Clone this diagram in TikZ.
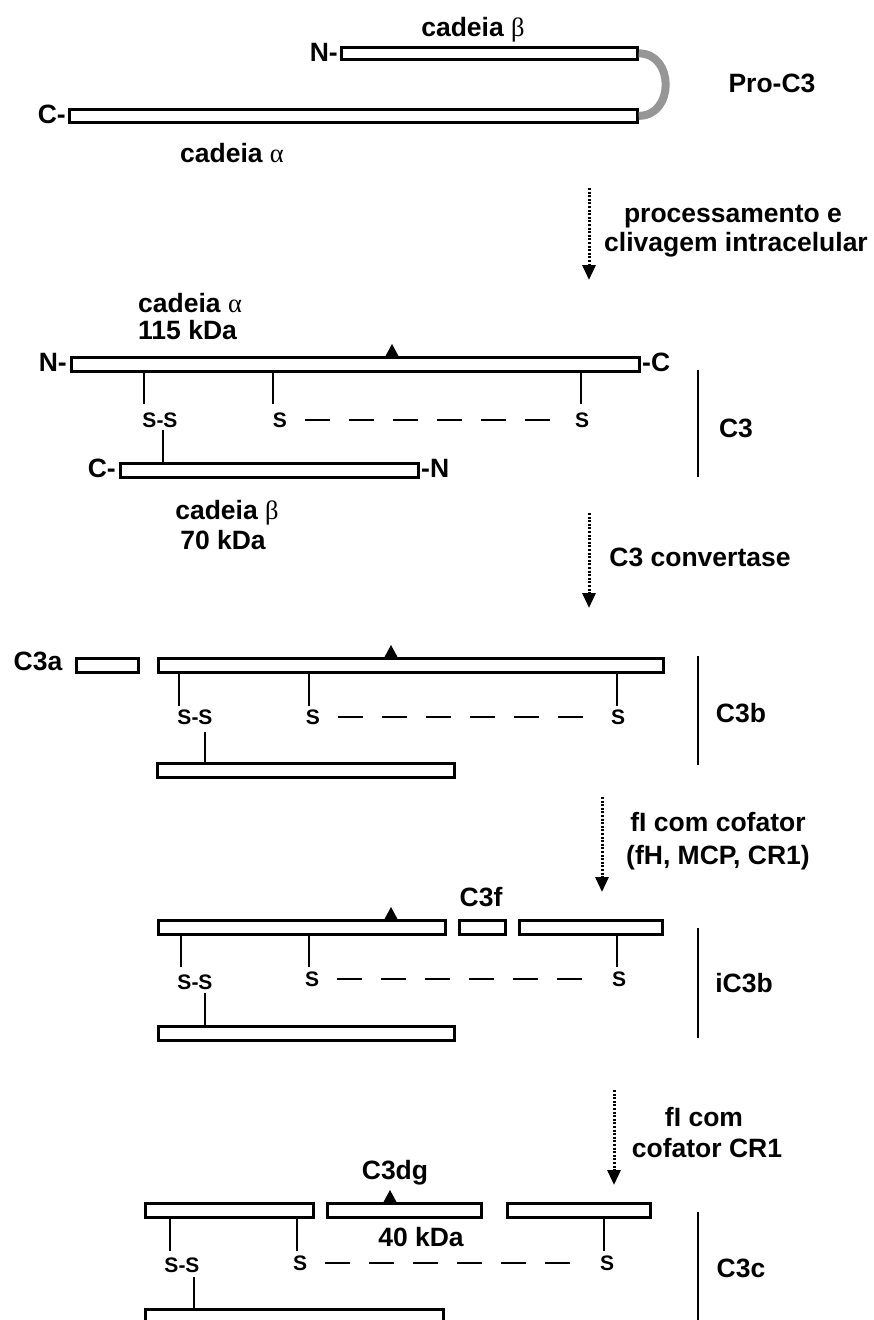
\documentclass[tikz,border=0pt]{standalone}
\usepackage{fontspec}
\setmainfont{Liberation Sans}
\newfontfamily\grk{Liberation Serif}
\usetikzlibrary{arrows.meta}
\definecolor{arcgray}{RGB}{150,150,150}
\begin{document}
\begin{tikzpicture}[x=1pt,y=-1pt,
  lbl/.style={font=\bfseries\fontsize{26.5}{30}\selectfont, inner sep=0pt, text height=19pt, text depth=0pt},
  slbl/.style={font=\bfseries\fontsize{21}{24}\selectfont, inner sep=0pt, text height=15pt, text depth=0pt},
  barbox/.style={draw, line width=2.7pt, fill=white, rectangle, anchor=north west, minimum height=14pt, inner sep=0pt},
  link/.style={line width=2pt},
  sdash/.style={line width=2.8pt, dash pattern=on 25pt off 19pt, shorten <=18pt, shorten >=18pt},
  flow/.style={line width=3pt, dash pattern=on 2pt off 1.6pt, -{Triangle[width=13pt,length=15pt]}},
  sidebar/.style={line width=2.4pt}
]
\useasboundingbox (0,0) rectangle (873,1320);
\newcommand\grkb[1]{{\grk\mdseries #1}}
\newcommand\tri[2]{\fill ([xshift=#2]#1.north west) ++(-6.5,0) -- ++(13,0) -- ++(-6.5,-12) -- cycle;}

% ---------------- Pro-C3 ----------------
\node[lbl] (tb0) at (473,27) {cadeia \grkb{β}};
\node[barbox, minimum width=296pt, minimum height=12pt] (bB0) at (340,46) {};
\node[lbl, anchor=east] (nb0) at (338,52) {N-};
\node[barbox, minimum width=568pt, minimum height=13pt] (bA0) at (68,108) {};
\node[lbl, anchor=east] (cA0) at (66,114) {C-};
\draw[line width=8pt, arcgray] (bB0.east) .. controls +(36,0) and +(36,0) .. (bA0.east);
\node[lbl] (ta0) at (232,153) {cadeia \grkb{α}};
\node[lbl] (pro) at (772,83) {Pro-C3};

% arrow 1
\coordinate (f1s) at (589,188);
\coordinate (f1e) at (589,280);
\draw[flow] (f1s) -- (f1e);
\node[lbl] (p1) at (733,213) {processamento e};
\node[lbl] (p2) at (736,242) {clivagem intracelular};

% ---------------- C3 ----------------
\node[lbl, anchor=west] (ta1) at (138,303) {cadeia \grkb{α}};
\node[lbl, anchor=west] (kd1) at (138,330) {115 kDa};
\node[barbox, minimum width=568pt] (a1) at (70,356) {};
\node[lbl, anchor=east] (nN1) at (67,362) {N-};
\node[lbl, anchor=west] (cC1) at (642,362) {-C};
\tri{a1}{322pt}
\node[slbl] (ss1) at (160,420) {S-S};
\node[slbl] (s12) at (280,420) {S};
\node[slbl] (s13) at (582,420) {S};
\draw[link] ([xshift=74pt]a1.south west) -- ++(0,31);
\draw[link] ([xshift=203pt]a1.south west) -- ++(0,31);
\draw[link] ([xshift=511pt]a1.south west) -- ++(0,31);
\draw[sdash] (s12.east) -- (s13.west);
\node[barbox, minimum width=298pt] (b1) at (119,462) {};
\node[lbl, anchor=east] (cC2) at (116,468) {C-};
\node[lbl, anchor=west] (nN2) at (421,468) {-N};
\draw[link] ([xshift=44pt]b1.north west) -- ++(0,-32);
\draw[sidebar] (698,370) -- (698,477);
\node[lbl] (lc3) at (736,428) {C3};
\node[lbl] (tb1) at (227,510) {cadeia \grkb{β}};
\node[lbl] (kd2) at (223,540) {70 kDa};

% arrow 2
\coordinate (f2s) at (589,513);
\coordinate (f2e) at (589,608);
\draw[flow] (f2s) -- (f2e);
\node[lbl] (cv) at (700,557) {C3 convertase};

% ---------------- C3b ----------------
\node[lbl] (c3a) at (38,661) {C3a};
\node[barbox, minimum width=62pt] (c3abox) at (75,657) {};
\node[barbox, minimum width=505pt] (a2) at (157,657) {};
\tri{a2}{234pt}
\node[slbl] (ss2) at (195,717) {S-S};
\node[slbl] (s22) at (313,717) {S};
\node[slbl] (s23) at (618,717) {S};
\draw[link] ([xshift=22pt]a2.south west) -- ++(0,32);
\draw[link] ([xshift=152pt]a2.south west) -- ++(0,32);
\draw[link] ([xshift=460pt]a2.south west) -- ++(0,32);
\draw[sdash] (s22.east) -- (s23.west);
\node[barbox, minimum width=297pt] (b2) at (156,762) {};
\draw[link] ([xshift=49pt]b2.north west) -- ++(0,-30);
\draw[sidebar] (698,656) -- (698,765);
\node[lbl] (lc3b) at (741,713) {C3b};

% arrow 3
\coordinate (f3s) at (602,797);
\coordinate (f3e) at (602,892);
\draw[flow] (f3s) -- (f3e);
\node[lbl] (fi1) at (718,822) {fI com cofator};
\node[lbl] (fi2) at (718,855) {(fH, MCP, CR1)};

% ---------------- iC3b ----------------
\node[lbl] (c3f) at (481,897) {C3f};
\node[barbox, minimum width=287pt] (a3l) at (157,919) {};
\node[barbox, minimum width=46pt] (c3fbox) at (458,919) {};
\node[barbox, minimum width=143pt] (a3r) at (518,919) {};
\tri{a3l}{234pt}
\node[slbl] (ss3) at (195,982) {S-S};
\node[slbl] (s32) at (312,979) {S};
\node[slbl] (s33) at (619,979) {S};
\draw[link] ([xshift=24pt]a3l.south west) -- ++(0,31);
\draw[link] ([xshift=152pt]a3l.south west) -- ++(0,31);
\draw[link] ([xshift=99pt]a3r.south west) -- ++(0,31);
\draw[sdash] (s32.east) -- (s33.west);
\node[barbox, minimum width=296pt] (b3) at (157,1025) {};
\draw[link] ([xshift=48pt]b3.north west) -- ++(0,-32);
\draw[sidebar] (698,928) -- (698,1038);
\node[lbl] (lic) at (744,983) {iC3b};

% arrow 4
\coordinate (f4s) at (614,1090);
\coordinate (f4e) at (614,1185);
\draw[flow] (f4s) -- (f4e);
\node[lbl] (fj1) at (704,1117) {fI com};
\node[lbl] (fj2) at (707,1148) {cofator CR1};

% ---------------- C3c ----------------
\node[lbl] (c3dg) at (395,1170) {C3dg};
\node[barbox, minimum width=168pt] (a4l) at (144,1202) {};
\node[barbox, minimum width=154pt] (c3dgbox) at (326,1202) {};
\node[barbox, minimum width=143pt] (a4r) at (506,1202) {};
\tri{c3dgbox}{64pt}
\node[lbl] (kd3) at (421,1237) {40 kDa};
\node[slbl] (ss4) at (182,1265) {S-S};
\node[slbl] (s42) at (300,1263) {S};
\node[slbl] (s43) at (607,1263) {S};
\draw[link] ([xshift=26pt]a4l.south west) -- ++(0,32);
\draw[link] ([xshift=153pt]a4l.south west) -- ++(0,32);
\draw[link] ([xshift=98pt]a4r.south west) -- ++(0,32);
\draw[sdash] (s42.east) -- (s43.west);
\node[barbox, minimum width=298pt] (b4) at (144,1308) {};
\draw[link] ([xshift=50pt]b4.north west) -- ++(0,-31);
\draw[sidebar] (698,1212) -- (698,1325);
\node[lbl] (lc3c) at (741,1268) {C3c};
\end{tikzpicture}
\end{document}
